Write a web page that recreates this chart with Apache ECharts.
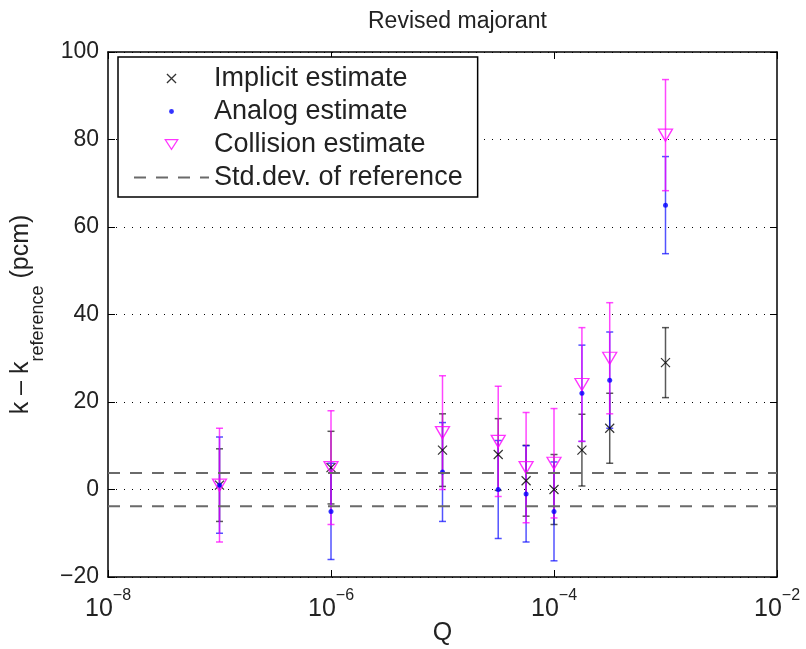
<!DOCTYPE html>
<html><head><meta charset="utf-8">
<script src="https://cdn.jsdelivr.net/npm/echarts@6/dist/echarts.min.js"></script>
<style>html,body{margin:0;padding:0;background:#fff}#c{width:806px;height:649px}</style>
</head><body><div id="c"></div>
<script>
// ---- data ----
const Q = [1e-7, 1e-6, 1e-5, 3.16e-5, 5.62e-5, 1e-4, 1.78e-4, 3.16e-4, 1e-3];
const implicitVal = [1, 5, 9, 8, 2, 0, 9, 14, 29];
const implicitErr = [8.3, 8.3, 8.3, 8.2, 8.1, 8.0, 8.2, 8.0, 8.0];
const analogVal = [1, -5, 4, 0, -1, -5, 22, 25, 65];
const analogErr = [11, 11, 11.3, 11.2, 11, 11.3, 11, 11, 11.1];
const collisionVal = [1, 5, 13, 11, 5, 6, 24, 30, 81];
const collisionErr = [13, 13, 13, 12.6, 12.6, 12.5, 13, 12.7, 12.7];
const refStd = 3.8;
const xRange = [1e-8, 1e-2];
const yRange = [-20, 100];
const yStep = 20;
const xTickExps = [-8, -6, -4, -2];
const xGridLines = [1e-6, 1e-4];
const names = ['Implicit estimate', 'Analog estimate', 'Collision estimate', 'Std.dev. of reference'];
const titleText = 'Revised majorant';

// ---- chart ----
const FONT = "'Liberation Sans', Arial, Helvetica, sans-serif";
const TXT = '#222';
const chart = echarts.init(document.getElementById('c'), null, {renderer: 'canvas'});

function errSeries(name, vals, errs, color) {
  return {
    type: 'custom', name: name, silent: true,
    data: Q.map((q, i) => [q, vals[i] - errs[i], vals[i] + errs[i]]),
    encode: {x: 0, y: [1, 2]},
    renderItem: function (params, api) {
      const x = api.value(0);
      const lo = api.coord([x, api.value(1)]);
      const hi = api.coord([x, api.value(2)]);
      const w = 3.5;
      const style = {stroke: color, lineWidth: 1.5, fill: null};
      return {type: 'group', children: [
        {type: 'line', shape: {x1: lo[0], y1: lo[1], x2: hi[0], y2: hi[1]}, style: style},
        {type: 'line', shape: {x1: lo[0] - w, y1: lo[1], x2: lo[0] + w, y2: lo[1]}, style: style},
        {type: 'line', shape: {x1: hi[0] - w, y1: hi[1], x2: hi[0] + w, y2: hi[1]}, style: style}
      ]};
    }
  };
}

const refLineStyle = {color: '#6a6a6a', width: 2, type: [12, 10]};

const option = {
  animation: false,
  backgroundColor: '#fff',
  title: {
    text: titleText, left: 368, top: 10, padding: 0,
    textStyle: {fontSize: 23, fontWeight: 'normal', color: TXT, fontFamily: FONT}
  },
  grid: {left: 108, right: 29, top: 52, bottom: 72, containLabel: false, outerBoundsMode: 'none'},
  legend: {
    orient: 'vertical', left: 118, top: 57, padding: [8, 15, 6, 15],
    borderColor: '#000', borderWidth: 1.5, backgroundColor: '#fff',
    itemWidth: 75, itemHeight: 14, itemGap: 6, itemTextGap: 11,
    selectedMode: false,
    textStyle: {fontSize: 27, lineHeight: 26, color: TXT, fontFamily: FONT},
    data: [
      {name: names[0], icon: 'path://M0,0M20,20M3.5,3.5L16.5,16.5M16.5,3.5L3.5,16.5',
        itemStyle: {color: 'transparent', borderColor: '#000', borderWidth: 1.3}},
      {name: names[1], icon: 'path://M0,0M20,20M10,6.5A3.5,3.5,0,1,1,9.99,6.5Z',
        itemStyle: {color: '#0000ff', borderWidth: 0}},
      {name: names[2], icon: 'path://M0,0M20,20M1,3L19,3L10,17Z',
        itemStyle: {color: 'transparent', borderColor: '#ff00ff', borderWidth: 1.2}},
      {name: names[3], lineStyle: refLineStyle,
        itemStyle: {color: 'transparent', borderColor: 'transparent', borderWidth: 0, opacity: 0}}
    ]
  },
  xAxis: [{
    type: 'log', logBase: 10, min: xRange[0], max: xRange[1], interval: 2, splitNumber: 3,
    position: 'bottom',
    name: 'Q', nameLocation: 'middle', nameGap: 44, nameMoveOverlap: false,
    nameTextStyle: {fontSize: 25, color: TXT, fontFamily: FONT},
    axisLine: {show: true, onZero: false, lineStyle: {color: '#000', width: 1.5}},
    axisTick: {show: true, inside: true, length: 7, lineStyle: {color: '#000', width: 1}},
    splitLine: {show: false},
    axisLabel: {
      margin: 11, color: TXT, fontFamily: FONT,
      formatter: function (v) {
        const e = Math.round(Math.log10(v));
        if (xTickExps.indexOf(e) < 0) return '';
        return '{b|10}{s|' + (e < 0 ? '\u2212' : '') + Math.abs(e) + '}';
      },
      rich: {
        b: {fontSize: 25, lineHeight: 34, verticalAlign: 'bottom', color: TXT, fontFamily: FONT},
        s: {fontSize: 16, lineHeight: 16, verticalAlign: 'top', color: TXT, fontFamily: FONT}
      }
    }
  }, {
    type: 'log', logBase: 10, min: xRange[0], max: xRange[1], interval: 2, splitNumber: 3,
    position: 'top',
    axisLine: {show: true, onZero: false, lineStyle: {color: '#000', width: 1.5}},
    axisTick: {show: true, inside: true, length: 7, lineStyle: {color: '#000', width: 1}},
    axisLabel: {show: false}, splitLine: {show: false}
  }],
  yAxis: [{
    type: 'value', min: yRange[0], max: yRange[1], interval: yStep,
    name: '{a|k \u2013 k}{s|reference}{a| (pcm)}',
    nameLocation: 'middle', nameRotate: 90, nameGap: 61, nameMoveOverlap: false,
    nameTextStyle: {
      color: TXT, fontFamily: FONT,
      rich: {
        a: {fontSize: 25, lineHeight: 25, verticalAlign: 'top', color: TXT, fontFamily: FONT},
        s: {fontSize: 18, lineHeight: 38, verticalAlign: 'bottom', color: TXT, fontFamily: FONT}
      }
    },
    axisLine: {show: true, onZero: false, lineStyle: {color: '#000', width: 1.5}},
    axisTick: {show: true, inside: true, length: 7, lineStyle: {color: '#000', width: 1}},
    splitLine: {show: true, lineStyle: {color: '#000', width: 1, type: [1, 7]}},
    axisLabel: {
      fontSize: 23, color: TXT, fontFamily: FONT, margin: 9,
      formatter: function (v) { return v < 0 ? '\u2212' + Math.abs(v) : String(v); }
    }
  }, {
    type: 'value', min: yRange[0], max: yRange[1], interval: yStep, position: 'right',
    axisLine: {show: true, onZero: false, lineStyle: {color: '#000', width: 1.5}},
    axisTick: {show: true, inside: true, length: 7, lineStyle: {color: '#000', width: 1}},
    axisLabel: {show: false}, splitLine: {show: false}
  }],
  series: [
    {
      type: 'line', name: names[3], symbol: 'none', silent: true,
      data: [[xRange[0], refStd], [xRange[1], refStd]],
      lineStyle: refLineStyle,
      markLine: {
        silent: true, symbol: 'none', label: {show: false},
        lineStyle: {color: '#000', width: 1, type: [1, 7]},
        data: xGridLines.map(v => ({xAxis: v}))
      }
    },
    {
      type: 'line', name: names[3], symbol: 'none', silent: true,
      data: [[xRange[0], -refStd], [xRange[1], -refStd]],
      lineStyle: refLineStyle
    },
    errSeries('implicitErr', implicitVal, implicitErr, 'rgba(0,0,0,0.65)'),
    {
      type: 'scatter', name: names[0],
      data: Q.map((q, i) => [q, implicitVal[i]]),
      symbol: 'path://M0,0L10,10M10,0L0,10', symbolSize: 9,
      itemStyle: {color: 'transparent', borderColor: '#000', borderWidth: 1.2}
    },
    errSeries('analogErr', analogVal, analogErr, 'rgba(0,0,255,0.68)'),
    {
      type: 'scatter', name: names[1],
      data: Q.map((q, i) => [q, analogVal[i]]),
      symbol: 'circle', symbolSize: 5,
      itemStyle: {color: '#0000ff'}
    },
    errSeries('collisionErr', collisionVal, collisionErr, 'rgba(255,0,255,0.72)'),
    {
      type: 'scatter', name: names[2],
      data: Q.map((q, i) => [q, collisionVal[i]]),
      symbol: 'triangle', symbolRotate: 180, symbolSize: [14, 12],
      itemStyle: {color: 'transparent', borderColor: '#ff00ff', borderWidth: 1.3}
    }
  ]
};
chart.setOption(option);
</script>
</body></html>
